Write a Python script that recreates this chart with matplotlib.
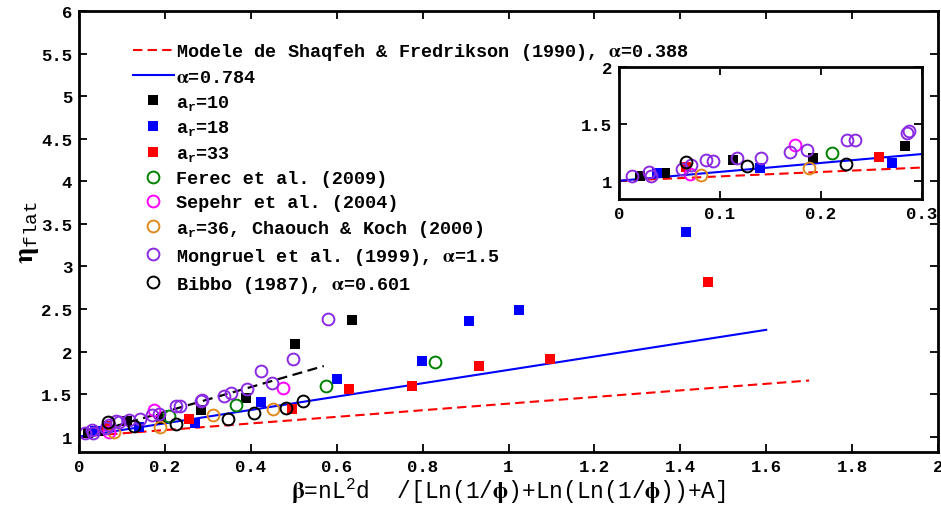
import numpy as np
import matplotlib
matplotlib.use('Agg')
import matplotlib.pyplot as plt

plt.rcParams['font.family'] = ['Liberation Mono', 'DejaVu Sans Mono', 'DejaVu Sans']
plt.rcParams['font.weight'] = 'bold'
plt.rcParams['mathtext.fontset'] = 'stix'
plt.rcParams['mathtext.default'] = 'regular'

# model lines (end points)
sf_x = [0.0, 1.7]
sf_y = [1.0, 1.66]
fit_x = [0.0, 1.6]
fit_y = [1.0, 2.255]
mong_x = [0.01, 0.57]
mong_y = [1.015, 1.83]

# measured points
ar10_x = [0.0205, 0.046, 0.1125, 0.192, 0.2835, 0.388, 0.504, 0.636]
ar10_y = [1.038, 1.065, 1.185, 1.203, 1.309, 1.455, 2.094, 2.376]
ar18_x = [0.0377, 0.140, 0.270, 0.424, 0.600, 0.799, 0.908, 1.024, 1.4125]
ar18_y = [1.065, 1.112, 1.156, 1.41, 1.68, 1.89, 2.357, 2.486, 3.408]
ar33_x = [0.066, 0.257, 0.495, 0.629, 0.775, 0.931, 1.097, 1.464]
ar33_y = [1.12, 1.206, 1.32, 1.565, 1.596, 1.827, 1.914, 2.82]
ferec_x = [0.2107, 0.365, 0.574, 0.830]
ferec_y = [1.244, 1.376, 1.596, 1.874]
sepehr_x = [0.070, 0.174, 0.476]
sepehr_y = [1.06, 1.315, 1.57]
chaouch_x = [0.081, 0.1886, 0.311, 0.452]
chaouch_y = [1.053, 1.112, 1.25, 1.33]
mongruel_x = [0.0132, 0.030, 0.032, 0.062, 0.071, 0.0857, 0.093, 0.117, 0.141,
              0.169, 0.186, 0.2256, 0.234, 0.285, 0.2875, 0.338, 0.353, 0.390,
              0.424, 0.450, 0.499, 0.580]
mongruel_y = [1.038, 1.074, 1.038, 1.10, 1.14, 1.185, 1.17, 1.197, 1.203,
              1.25, 1.27, 1.359, 1.359, 1.42, 1.435, 1.478, 1.518, 1.556,
              1.77, 1.635, 1.918, 2.38]
bibbo_x = [0.0668, 0.127, 0.225, 0.346, 0.407, 0.481, 0.521]
bibbo_y = [1.168, 1.126, 1.147, 1.21, 1.28, 1.34, 1.415]

xticks = [0, 0.2, 0.4, 0.6, 0.8, 1, 1.2, 1.4, 1.6, 1.8, 2]
xticklabels = ['0', '0.2', '0.4', '0.6', '0.8', '1', '1.2', '1.4', '1.6', '1.8', '2']
yticks = [1, 1.5, 2, 2.5, 3, 3.5, 4, 4.5, 5, 5.5, 6]
yticklabels = ['1', '1.5', '2', '2.5', '3', '3.5', '4', '4.5', '5', '5.5', '6']
in_xticks = [0, 0.1, 0.2, 0.3]
in_xticklabels = ['0', '0.1', '0.2', '0.3']
in_yticks = [1, 1.5, 2]
in_yticklabels = ['1', '1.5', '2']

purple = '#8a2be2'
orange = '#e08a1e'
green = '#008000'
magenta = '#ff00ff'
dash = (0, (4.5, 2.5))


def draw_points(ax):
    sq = dict(ls='none', marker='s', ms=7, mew=0)
    ci = dict(ls='none', marker='o', ms=8.5, mfc='none', mew=1.4)
    ax.plot(ar10_x, ar10_y, color='k', label='a$_r$=10', **sq)
    ax.plot(ar18_x, ar18_y, color='#0000ff', label='a$_r$=18', **sq)
    ax.plot(ar33_x, ar33_y, color='#ff0000', label='a$_r$=33', **sq)
    ax.plot(ferec_x, ferec_y, mec=green, label='Ferec et al. (2009)', **ci)
    ax.plot(sepehr_x, sepehr_y, mec=magenta, label='Sepehr et al. (2004)', **ci)
    ax.plot(chaouch_x, chaouch_y, mec=orange, label='a$_r$=36, Chaouch & Koch (2000)', **ci)
    ax.plot(mongruel_x, mongruel_y, mec=purple,
            label=r'Mongruel et al. (1999), $\mathrm{\alpha}$=1.5', **ci)
    ax.plot(bibbo_x, bibbo_y, mec='k', label=r'Bibbo (1987), $\mathrm{\alpha}$=0.601', **ci)


def style(ax, lw_spine=2.0):
    for s in ax.spines.values():
        s.set_linewidth(lw_spine)
    ax.tick_params(direction='in', length=6, width=1.3, top=True, right=True,
                   labelsize=12.5, pad=5)


fig = plt.figure(figsize=(9.41, 5.06), dpi=100)
ax = fig.add_axes([79 / 941, 1 - 453 / 506, 859 / 941, 441 / 506])

ax.plot(sf_x, sf_y, color='#ff0000', lw=1.5, ls=dash,
        label=r'Modele de Shaqfeh & Fredrikson (1990), $\mathrm{\alpha}$=0.388')
ax.plot(fit_x, fit_y, color='#0000ff', lw=1.5, label=r'$\mathrm{\alpha}$=0.784')
ax.plot(mong_x, mong_y, color='k', lw=1.6, ls=dash)
draw_points(ax)

ax.set_xlim(0, 2)
ax.set_ylim(0.82, 6)
ax.set_xticks(xticks)
ax.set_xticklabels(xticklabels)
ax.set_yticks(yticks)
ax.set_yticklabels(yticklabels)
style(ax)

ax.set_xlabel(r'$\mathrm{\beta}$=nL$^2$d  /[Ln(1/$\mathrm{\phi}$)+Ln(Ln(1/$\mathrm{\phi}$))+A]',
              fontsize=16.5, labelpad=1)
ax.set_ylabel(r'$\mathrm{\eta}_{flat}$', fontsize=20, labelpad=0)

ax.legend(loc='upper left', bbox_to_anchor=(0.063, 0.932), frameon=False,
          fontsize=13.3, handlelength=2.2, handletextpad=0.1, labelspacing=0.37,
          borderpad=0, borderaxespad=0)

# inset zoom on small beta
axi = fig.add_axes([619 / 941, 1 - 200 / 506, 303 / 941, 132 / 506])
axi.plot(sf_x, sf_y, color='#ff0000', lw=1.5, ls=dash)
axi.plot(fit_x, fit_y, color='#0000ff', lw=1.5)
draw_points(axi)
axi.set_xlim(0, 0.3)
axi.set_ylim(0.84, 2)
axi.set_xticks(in_xticks)
axi.set_xticklabels(in_xticklabels)
axi.set_yticks(in_yticks)
axi.set_yticklabels(in_yticklabels)
style(axi)

fig.savefig('out.png', dpi=100)
